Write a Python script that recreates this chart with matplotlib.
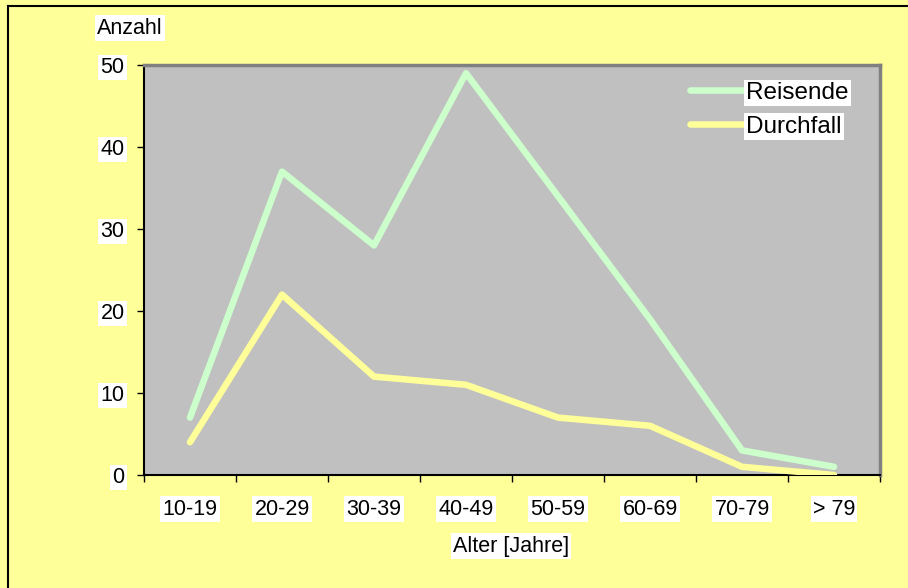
import matplotlib
matplotlib.use("Agg")
import matplotlib.pyplot as plt
from matplotlib.lines import Line2D
import numpy as np

plt.rcParams['font.family'] = ['Liberation Sans', 'DejaVu Sans']

categories = ["10-19", "20-29", "30-39", "40-49", "50-59", "60-69", "70-79", "> 79"]
reisende = [7, 37, 28, 49, 34, 19, 3, 1]
durchfall = [4, 22, 12, 11, 7, 6, 1, 0]
y_ticks = [0, 10, 20, 30, 40, 50]

W, H = 908, 588
FS = 15.5
FS_LEG = 17.5
fig = plt.figure(figsize=(W / 100 + 1e-4, H / 100 + 1e-4), dpi=100)
fig.patch.set_facecolor("#FFFF99")
fig.patch.set_linewidth(0)

# outer frame: left and top edges
fig.add_artist(Line2D([7.5 / W, 7.5 / W], [0, 1 - 6 / H], transform=fig.transFigure,
                      color="black", linewidth=1.5))
fig.add_artist(Line2D([7.5 / W, 1.0], [1 - 6 / H, 1 - 6 / H], transform=fig.transFigure,
                      color="black", linewidth=1.5))

left, right, top, bottom = 144, 880, 65, 475
ax = fig.add_axes([left / W, 1 - bottom / H, (right - left) / W, (bottom - top) / H])
ax.set_facecolor("#C0C0C0")

x = np.arange(len(categories))
ax.plot(x, reisende, color="#CCFFCC", linewidth=4.7, solid_capstyle="round",
        solid_joinstyle="round", label="Reisende", zorder=3)
ax.plot(x, durchfall, color="#FFFF99", linewidth=4.7, solid_capstyle="round",
        solid_joinstyle="round", label="Durchfall", zorder=3)

ax.set_xlim(-0.5, len(categories) - 0.5)
ax.set_ylim(0, 50)

white = dict(facecolor="white", edgecolor="none", pad=1.5)

ax.set_yticks(y_ticks)
ax.set_yticklabels([str(v) for v in y_ticks], fontsize=FS, bbox=white)
ax.tick_params(axis="y", direction="out", length=5, width=1, color="black", pad=9)

ax.set_xticks(x)
ax.set_xticklabels(categories, fontsize=FS, bbox=white)
ax.tick_params(axis="x", which="major", length=0, pad=17)
ax.set_xticks(np.arange(-0.5, len(categories)), minor=True)
ax.tick_params(axis="x", which="minor", direction="out", length=5, width=1, color="black")

for side in ("left", "bottom"):
    ax.spines[side].set_color("black")
    ax.spines[side].set_linewidth(1.5)
for side in ("top", "right"):
    ax.spines[side].set_color("#808080")
    ax.spines[side].set_linewidth(2.5)

leg = ax.legend(loc="upper left",
                bbox_to_anchor=((690 - left) / (right - left), 1 - (82 - top) / (bottom - top)),
                frameon=False, fontsize=FS_LEG, handlelength=2.25, handletextpad=0.06,
                labelspacing=0.48, borderpad=0, borderaxespad=0)
for t in leg.get_texts():
    t.set_bbox(dict(facecolor="white", edgecolor="none", pad=1.5))

fig.text(97 / W, 1 - 28 / H, "Anzahl", fontsize=FS, ha="left", va="center", bbox=white)
fig.text(511 / W, 1 - 546 / H, "Alter [Jahre]", fontsize=FS, ha="center", va="center", bbox=white)

fig.savefig("out.png", dpi=100, facecolor=fig.get_facecolor())
